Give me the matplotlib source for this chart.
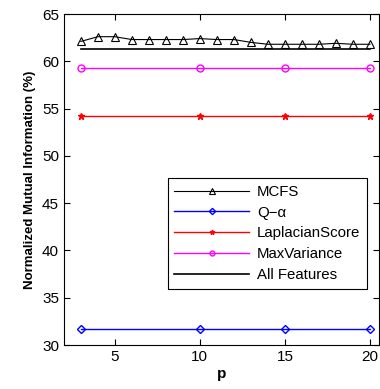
import numpy as np
import matplotlib.pyplot as plt

p_all = list(range(3, 21))
mcfs = [62.1, 62.6, 62.6, 62.3, 62.3, 62.3, 62.3, 62.4, 62.3, 62.3,
        62.0, 61.8, 61.8, 61.8, 61.8, 61.9, 61.8, 61.8]
p_sparse = [3, 10, 15, 20]
q_alpha = [31.7, 31.7, 31.7, 31.7]
laplacian = [54.2, 54.2, 54.2, 54.2]
max_var = [59.3, 59.3, 59.3, 59.3]
all_feat = [61.3, 61.3]
p_allfeat = [3, 20]

plt.rcParams['font.family'] = ['Liberation Sans', 'DejaVu Sans']

fig = plt.figure(figsize=(3.8, 3.89), dpi=100)
ax = fig.add_axes([0.168, 0.113, 0.83, 0.851])

ax.plot(p_all, mcfs, color='black', lw=0.8, marker='^', ms=6, mfc='none',
        mec='black', mew=0.8, label='MCFS')
ax.plot(p_sparse, q_alpha, color='blue', lw=1, marker='D', ms=4.5, mfc='none',
        mec='blue', label='Q\u2212\u03b1')
ax.plot(p_sparse, laplacian, color='red', lw=1, marker='*', ms=5,
        mec='red', mfc='red', label='LaplacianScore')
ax.plot(p_sparse, max_var, color='magenta', lw=1, marker='o', ms=5, mfc='none',
        mec='magenta', label='MaxVariance')
ax.plot(p_allfeat, all_feat, color='black', lw=1.2, label='All Features')

ax.set_xlim(2, 20.55)
ax.set_ylim(30, 65)
ax.set_xticks([5, 10, 15, 20])
ax.set_yticks([30, 35, 40, 45, 50, 55, 60, 65])
ax.tick_params(direction='in', top=True, right=True, labelsize=11, length=4)
ax.set_xlabel('p', fontsize=11, fontweight='bold', labelpad=2)
ax.set_ylabel('Normalized Mutual Information (%)', fontsize=9.5, fontweight='bold')

leg = ax.legend(loc='lower right', bbox_to_anchor=(0.985, 0.148), fontsize=10.8,
                fancybox=False, edgecolor='black', framealpha=1,
                handlelength=5.0, handletextpad=0.5, markerscale=0.7,
                borderpad=0.45, labelspacing=0.45)
leg.get_frame().set_linewidth(0.8)

fig.savefig('out.png', dpi=100)
